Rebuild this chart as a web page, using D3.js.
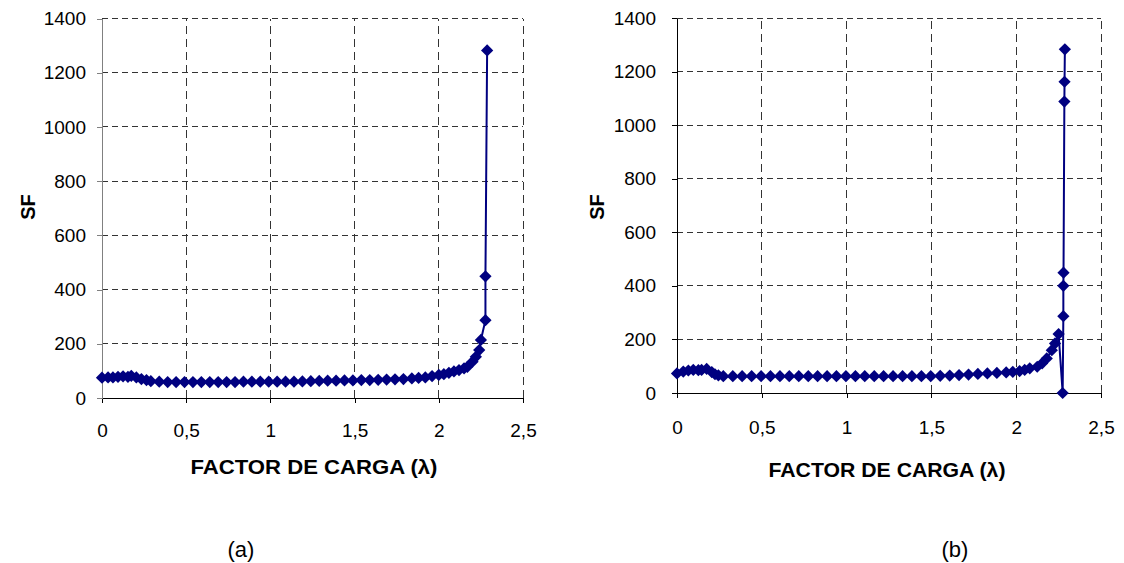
<!DOCTYPE html>
<html>
<head>
<meta charset="utf-8">
<script src="https://cdn.jsdelivr.net/npm/d3@7"></script>
<style>
  html, body { margin: 0; padding: 0; background: #fff; }
  svg { display: block; font-family: "Liberation Sans", Arial, sans-serif; }
</style>
</head>
<body>
<svg id="chart" width="1124" height="563"></svg>
<script>
// Panel (a): safety factor vs. load factor
const leftLoad = [0, 0.036, 0.065, 0.095, 0.125, 0.154, 0.174, 0.204, 0.234, 0.264,
  0.29, 0.34, 0.39, 0.44, 0.49, 0.54, 0.59, 0.64, 0.69, 0.74,
  0.79, 0.84, 0.89, 0.94, 0.99, 1.04, 1.09, 1.14, 1.19, 1.24,
  1.29, 1.34, 1.39, 1.44, 1.49, 1.54, 1.59, 1.64, 1.69, 1.74,
  1.79, 1.84, 1.88, 1.92, 1.96, 2.0, 2.03, 2.06, 2.09, 2.12,
  2.15, 2.17, 2.2, 2.22, 2.24, 2.25, 2.277, 2.277, 2.287];
const leftSF = [75, 76, 76, 78, 80, 78, 82, 76, 70, 66,
  62, 60, 59, 59, 59, 59, 59, 59, 59, 59,
  59, 60, 60, 60, 60, 60, 60, 60, 61, 62,
  63, 64, 64, 65, 65, 66, 66, 67, 68, 69,
  70, 72, 74, 76, 81, 85, 88, 93, 98, 103,
  109, 115, 134, 152, 177, 214, 287, 449, 1282];

// Panel (b)
const rightLoad = [0, 0.037, 0.067, 0.096, 0.126, 0.145, 0.175, 0.205, 0.224, 0.244,
  0.273, 0.329, 0.384, 0.44, 0.496, 0.551, 0.607, 0.662, 0.718, 0.774,
  0.829, 0.885, 0.94, 0.996, 1.052, 1.107, 1.163, 1.218, 1.274, 1.33,
  1.385, 1.441, 1.496, 1.552, 1.608, 1.663, 1.719, 1.774, 1.83, 1.886,
  1.941, 1.98, 2.02, 2.05, 2.08, 2.124, 2.153, 2.18, 2.21, 2.229,
  2.25, 2.274, 2.278, 2.278, 2.279, 2.284, 2.285, 2.287];
const rightSF = [73, 80, 84, 86, 85, 86, 90, 78, 70, 66,
  63, 63, 63, 63, 63, 63, 63, 63, 63, 63,
  63, 63, 63, 63, 63, 63, 63, 63, 63, 63,
  63, 63, 63, 64, 65, 67, 69, 71, 73, 75,
  77, 79, 82, 86, 92, 98, 111, 129, 160, 185,
  220, 0, 287, 400, 449, 1088, 1162, 1283];

const xTicks = [0, 0.5, 1, 1.5, 2, 2.5];
const yTicks = [0, 200, 400, 600, 800, 1000, 1200, 1400];
const xTitle = "FACTOR DE CARGA (λ)";
const yTitle = "SF";
const panelLabels = ["(a)", "(b)"];

const svg = d3.select("#chart");
const navy = "#000080";

// square rotated 45°, the classic spreadsheet diamond marker
const diamond = {
  draw(ctx, size) {
    const r = Math.sqrt(size) / 2;
    ctx.moveTo(0, -r);
    ctx.lineTo(r, 0);
    ctx.lineTo(0, r);
    ctx.lineTo(-r, 0);
    ctx.closePath();
  }
};

const fmt = d => String(d).replace(".", ",");

function drawPanel(cfg) {
  const x = d3.scaleLinear().domain([0, 2.5]).range([cfg.x0, cfg.x1]);
  const y = d3.scaleLinear().domain([0, 1400]).range([cfg.y0, cfg.y1]);
  const g = svg.append("g");

  // dashed grid
  g.append("g").selectAll("line").data(yTicks.filter(d => d > 0)).join("line")
    .attr("x1", cfg.x0).attr("x2", cfg.x1)
    .attr("y1", d => y(d)).attr("y2", d => y(d))
    .attr("stroke", "#333").attr("stroke-width", 1)
    .attr("stroke-dasharray", "6,4")
    .attr("shape-rendering", "crispEdges");
  g.append("g").selectAll("line").data(xTicks.filter(d => d > 0)).join("line")
    .attr("x1", d => x(d)).attr("x2", d => x(d))
    .attr("y1", cfg.y0).attr("y2", cfg.y1)
    .attr("stroke", "#333").attr("stroke-width", 1)
    .attr("stroke-dasharray", "8,5")
    .attr("shape-rendering", "crispEdges");

  // axes
  const xAxis = g.append("g").attr("transform", `translate(0,${cfg.y0})`)
    .call(d3.axisBottom(x).tickValues(xTicks).tickFormat(fmt)
      .tickSizeInner(5).tickSizeOuter(0).tickPadding(cfg.xPad));
  const yAxis = g.append("g").attr("transform", `translate(${cfg.x0},0)`)
    .call(d3.axisLeft(y).tickValues(yTicks).tickFormat(d => d)
      .tickSizeInner(5).tickSizeOuter(0).tickPadding(cfg.yPad));
  [xAxis, yAxis].forEach(a => {
    a.selectAll("text").attr("font-size", 19).attr("fill", "#000")
      .attr("font-family", "'Liberation Sans', Arial, sans-serif");
    a.selectAll("line").attr("shape-rendering", "crispEdges");
    a.select(".domain").attr("shape-rendering", "crispEdges");
  });
  xAxis.selectAll("line, .domain").attr("stroke", "#000");
  yAxis.selectAll("line, .domain").attr("stroke", cfg.yAxisColor);

  // series
  const pts = cfg.load.map((d, i) => [d, cfg.sf[i]]);
  g.append("path").datum(pts)
    .attr("fill", "none").attr("stroke", navy).attr("stroke-width", 2)
    .attr("d", d3.line().x(d => x(d[0])).y(d => y(d[1])));
  g.append("g").selectAll("path").data(pts).join("path")
    .attr("transform", d => `translate(${x(d[0])},${y(d[1])})`)
    .attr("d", d3.symbol().type(diamond).size(150))
    .attr("fill", navy);

  // titles
  g.append("text").attr("x", cfg.titleX).attr("y", cfg.titleY)
    .attr("text-anchor", "middle").attr("font-weight", "bold").attr("font-size", 20.5)
    .attr("textLength", cfg.titleLen).attr("lengthAdjust", "spacingAndGlyphs")
    .text(xTitle);
  g.append("text")
    .attr("transform", `translate(${cfg.sfX},${cfg.sfY}) rotate(-90)`)
    .attr("text-anchor", "middle").attr("font-weight", "bold").attr("font-size", 20)
    .text(yTitle);
  g.append("text").attr("x", cfg.labelX).attr("y", 557)
    .attr("text-anchor", "middle").attr("font-size", 22)
    .text(cfg.label);
}

drawPanel({
  load: leftLoad, sf: leftSF,
  x0: 102, x1: 523, y0: 398, y1: 18.5,
  xPad: 21, yPad: 11, yAxisColor: "#808080",
  titleX: 314, titleY: 474, titleLen: 247,
  sfX: 35, sfY: 207, labelX: 241, label: panelLabels[0]
});
drawPanel({
  load: rightLoad, sf: rightSF,
  x0: 677, x1: 1101, y0: 393, y1: 18,
  xPad: 23, yPad: 16, yAxisColor: "#000",
  titleX: 887, titleY: 477, titleLen: 237,
  sfX: 604, sfY: 207, labelX: 955, label: panelLabels[1]
});
</script>
</body>
</html>
